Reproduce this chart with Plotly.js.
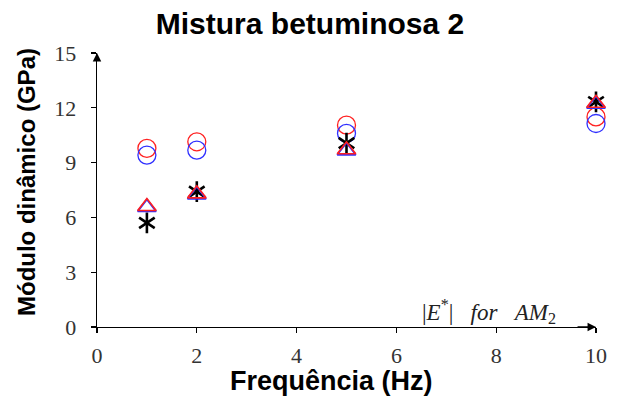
<!DOCTYPE html>
<html><head><meta charset="utf-8">
<script src="https://cdn.plot.ly/plotly-3.0.1.min.js"></script>
<style>html,body{margin:0;padding:0;background:#fff}</style>
</head><body>
<div id="chart" style="width:619px;height:401px"></div>
<script>
const freq = [1, 2, 5, 10];
const circBlue = [9.41, 9.68, 10.6, 11.14];
const circRed = [9.78, 10.14, 11.05, 11.5];
const triBlue = [6.55, 7.24, 9.65, 12.2];
const triRed = [6.6, 7.29, 9.7, 12.25];
const star = [5.70, 7.41, 10.07, 12.32];
const xTicks = [0, 2, 4, 6, 8, 10];
const yTicks = [0, 3, 6, 9, 12, 15];

const serif = "Liberation Serif, DejaVu Serif, serif";
const sans = "Liberation Sans, Arial, sans-serif";

function tr(y, sym, color, size, lw) {
  return {x: freq, y: y, type: 'scatter', mode: 'markers', hoverinfo: 'skip', cliponaxis: false,
    marker: {symbol: sym, size: size, color: color, line: {color: color, width: lw}}};
}
const data = [
  tr(circRed, 'circle-open', '#ff2020', 18, 1.3),
  tr(circBlue, 'circle-open', '#3030ff', 18, 1.3),
  tr(star, 'y-up-open', '#000000', 13, 2.6),
  tr(star, 'y-down-open', '#000000', 13, 2.6),
  tr(triBlue, 'triangle-up-open', '#3030ff', 16, 1.8),
  tr(triRed, 'triangle-up-open', '#ff2020', 16, 1.6)
];

// plot area in pixels
const L = 97, R = 23, T = 52.5, B = 73.5, W = 619, H = 401;
const pw = W - L - R, ph = H - T - B;

const axCommon = {showgrid: false, zeroline: false, showline: true, linecolor: '#000', linewidth: 1.3,
  tickcolor: '#000', ticklen: 5, tickwidth: 1.1};
const sp = '\u00A0\u00A0\u00A0';
const layout = {
  width: W, height: H, showlegend: false,
  paper_bgcolor: '#fff', plot_bgcolor: '#fff',
  margin: {l: L, r: R, t: T, b: B},
  title: {text: '<b>Mistura betuminosa 2</b>', x: 310 / W, xanchor: 'center', y: 1 - 23 / H, yanchor: 'middle',
    font: {family: sans, size: 30, color: '#000'}},
  xaxis: Object.assign({}, axCommon, {range: [0, 10], tickvals: xTicks, ticktext: xTicks.map(String), ticks: 'outside',
    tickfont: {family: serif, size: 22, color: '#333'}, ticklabelstandoff: 3}),
  yaxis: Object.assign({}, axCommon, {range: [0, 15], tickvals: yTicks, ticktext: yTicks.map(String), ticks: 'outside',
    tickfont: {family: serif, size: 22, color: '#333'}, ticklabelstandoff: 10}),
  xaxis2: Object.assign({}, axCommon, {overlaying: 'x', anchor: 'y', matches: 'x', range: [0, 10], tickvals: xTicks,
    ticks: 'inside', showticklabels: false, showline: false}),
  yaxis2: Object.assign({}, axCommon, {overlaying: 'y', anchor: 'x', matches: 'y', range: [0, 15], tickvals: yTicks,
    ticks: 'inside', showticklabels: false, showline: false}),
  annotations: [
    {x: 10, y: 0, ax: 9.6, ay: 0, xref: 'x', yref: 'y', axref: 'x', ayref: 'y', text: '', showarrow: true,
      arrowhead: 2, arrowsize: 1.3, arrowwidth: 1.3, arrowcolor: '#000'},
    {x: 0, y: 15, ax: 0, ay: 14.5, xref: 'x', yref: 'y', axref: 'x', ayref: 'y', text: '', showarrow: true,
      arrowhead: 2, arrowsize: 1.3, arrowwidth: 1.3, arrowcolor: '#000'},
    {x: 7.85, y: 0.85, xref: 'x', yref: 'y', showarrow: false, xanchor: 'center', yanchor: 'middle',
      text: '|<i>E</i><sup>*</sup>|' + sp + '<i>for</i>' + sp + '<i>AM</i><sub>2</sub>', font: {family: serif, size: 23, color: '#222'}},
    {x: (331.5 - L) / pw, y: -(382 - (H - B)) / ph, xref: 'paper', yref: 'paper', showarrow: false,
      xanchor: 'center', yanchor: 'middle',
      text: '<b>Frequência (Hz)</b>', font: {family: sans, size: 27, color: '#000'}},
    {x: -(L - 26.5) / pw, y: ((H - B) - 182.5) / ph, xref: 'paper', yref: 'paper', showarrow: false,
      xanchor: 'center', yanchor: 'middle',
      textangle: -90, text: '<b>Módulo dinâmico (GPa)</b>', font: {family: sans, size: 24, color: '#000'}}
  ]
};
Plotly.newPlot('chart', data, layout, {displayModeBar: false, staticPlot: true});
</script>
</body></html>
